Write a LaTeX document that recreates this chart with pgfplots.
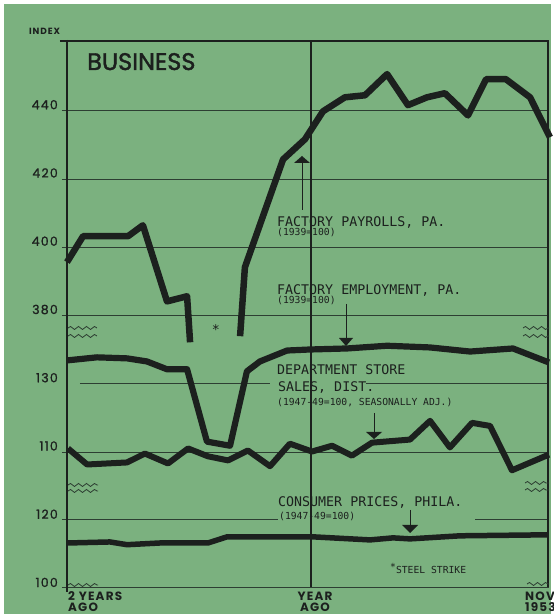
\documentclass[border=0pt]{standalone}
\usepackage{pgfplots}
\pgfplotsset{compat=1.18}
\usepackage{pgfplotstable}
\usepackage{fontspec}
\setmainfont{Poppins}
\newfontfamily\pop{Poppins}[LetterSpace=10]
\newfontfamily\popb{Poppins}[LetterSpace=10, FakeBold=1.2]
\newfontfamily\biz{Poppins}[FakeBold=1.6]
\newfontfamily\mono{DejaVu Sans Mono}
\usetikzlibrary{decorations.pathmorphing}
\definecolor{bg}{RGB}{123,177,127}
\definecolor{ink}{RGB}{28,32,30}
\definecolor{gridc}{RGB}{45,62,50}
\newcommand\tickfont{\popb\fontsize{12.5}{14}\selectfont}
\newcommand\bizfont{\biz\fontsize{24}{28}\selectfont}
\newcommand\xlabfont{\pop\bfseries\fontsize{12}{14}\selectfont}
\newcommand\lettA{\mono\fontsize{13.3}{15}\selectfont}
\newcommand\lettB{\mono\fontsize{9.7}{11}\selectfont}

% months from "2 years ago" (0) to Nov 1953 (24); index values
\pgfplotstableread{
m v
0.00 395.2
0.80 402.8
3.04 402.8
3.78 406.0
4.98 383.7
5.98 385.2
6.13 371.7
}\payA
\pgfplotstableread{
m v
8.62 373.5
8.86 393.7
10.76 425.3
11.85 431.2
12.75 439.4
13.84 443.5
14.84 444.1
15.94 450.3
16.98 441.2
17.93 443.5
18.82 444.7
19.97 438.2
20.87 448.8
21.86 448.8
23.06 443.5
24.05 431.8
}\pay
\pgfplotstableread{
m v
0.00 136.4
1.49 137.3
2.99 137.0
3.98 136.1
4.98 133.8
5.98 133.8
6.97 112.6
8.12 111.4
8.96 133.2
9.61 136.1
10.96 139.3
12.10 139.6
13.94 139.9
15.94 140.7
18.08 140.2
20.07 139.0
22.21 139.9
24.00 135.8
}\emp
\pgfplotstableread{
m v
0.05 110.6
1.00 105.9
2.99 106.5
3.88 109.1
5.03 106.2
6.03 110.6
7.02 108.3
8.02 107.1
9.01 110.0
10.11 105.4
11.10 112.0
12.20 109.7
13.20 111.4
14.19 108.5
15.19 112.3
17.08 113.2
18.08 118.7
19.07 110.9
20.17 118.1
21.07 117.2
22.16 104.2
24.00 108.8
}\dept
\pgfplotstableread{
m v
0.05 112.9
2.14 113.2
2.99 112.4
4.63 112.9
7.02 112.9
7.97 114.7
12.25 114.7
15.09 113.8
16.24 114.4
17.08 114.1
19.57 115.0
24.00 115.3
}\cpi

\begin{document}
\begin{tikzpicture}
\begin{scope}[x=1pt,y=-1pt,xshift=-67pt,yshift=587pt]
\fill[white] (0,0) rectangle (554,614);
\fill[bg] (4,4) rectangle (551,614);
\begin{scope}[draw=gridc, line width=0.9pt]
\draw (62,110) -- (549,110);
\draw (62,179) -- (549,179);
\draw (62,247) -- (549,247);
\draw (62,315) -- (549,315);
\draw (80,383) -- (270,383);
\draw (366,383) -- (549,383);
\draw (62,452) -- (549,452);
\draw (62,519) -- (278,519);
\draw (475,519) -- (549,519);
\draw (62,587) -- (549,587);
\end{scope}
\draw[ink, line width=1.5pt] (67,40) -- (67,592);
\draw[ink, line width=1.2pt] (60,41) -- (549,41);
\draw[ink, line width=1.1pt] (548,41) -- (548,587);
\draw[ink, line width=1.1pt] (311,41) -- (311,587);
\end{scope}

\begin{axis}[
  x=20.08pt, y=68.25pt,
  xmin=0, xmax=24, ymin=0, ymax=8,
  enlargelimits=false,
  axis line style={draw=none},
  major tick length=0pt,
  xtick=\empty,
  ytick={0,1,2,3,4,5,6,7},
  yticklabels={100,120,110,130,380,400,420,440},
  yticklabel style={font=\tickfont, text=ink, anchor=base east, inner sep=0pt, xshift=-9pt},
  clip=false,
]
\addplot[ink, line width=6.5pt, line join=round] table[x=m, y expr={4+(\thisrow{v}-380)/20}] {\payA};
\addplot[ink, line width=6.5pt, line join=round] table[x=m, y expr={4+(\thisrow{v}-380)/20}] {\pay};
\addplot[ink, line width=6.2pt, line join=round] table[x=m, y expr={3+(\thisrow{v}-130)/20}] {\emp};
\addplot[ink, line width=6pt, line join=round] table[x=m, y expr={3+(\thisrow{v}-130)/20}] {\dept};
\addplot[ink, line width=5.5pt, line join=round] table[x=m, y expr={(\thisrow{v}-100)/20}] {\cpi};
\end{axis}

\begin{scope}[x=1pt,y=-1pt,xshift=-67pt,yshift=587pt]
\tikzset{lab/.style={anchor=base west, inner sep=0pt, text=ink},
  wave/.style={draw=gridc, line width=0.8pt, decorate, decoration={snake, amplitude=1.5pt, segment length=8pt}}}
\node[lab, font=\bizfont] at (87,70) {BUSINESS};
\node[lab, font=\pop\bfseries\fontsize{9}{10}\selectfont] at (29,35) {INDEX};
\node[lab, font=\lettA] at (277,227) {FACTORY PAYROLLS, PA.};
\node[lab, font=\lettB] at (277,236) {(1939=100)};
\node[lab, font=\lettA] at (277,295) {FACTORY EMPLOYMENT, PA.};
\node[lab, font=\lettB] at (277,304) {(1939=100)};
\node[lab, font=\lettA] at (277,375) {DEPARTMENT STORE};
\node[lab, font=\lettA] at (278,392) {SALES, DIST.};
\node[lab, font=\lettB] at (277,406) {(1947-49=100, SEASONALLY ADJ.)};
\node[lab, font=\lettA] at (278,507) {CONSUMER PRICES, PHILA.};
\node[lab, font=\lettB] at (279,520) {(1947-49=100)};
\node[lab, font=\lettB] at (390,573) {\raisebox{2pt}{*}STEEL STRIKE};
\node[inner sep=0pt, text=ink, font=\lettA] at (216,330) {*};
\node[lab, font=\xlabfont] at (68,600) {2 YEARS};
\node[lab, font=\xlabfont] at (68,611) {AGO};
\node[anchor=base, inner sep=0pt, text=ink, font=\xlabfont] at (315,600) {YEAR};
\node[anchor=base, inner sep=0pt, text=ink, font=\xlabfont] at (315,611) {AGO};
\node[lab, font=\xlabfont] at (525,600) {NOV.};
\node[lab, font=\xlabfont] at (525,611) {1953};
% arrows
\draw[ink, line width=1pt] (302,210) -- (302,163);
\fill[ink] (294,163) -- (310,163) -- (302,156) -- cycle;
\draw[ink, line width=1pt] (346,304) -- (346,338);
\fill[ink] (339,338) -- (353,338) -- (346,346) -- cycle;
\draw[ink, line width=1pt] (374,413) -- (374,432);
\fill[ink] (366,432) -- (382,432) -- (374,439) -- cycle;
\draw[ink, line width=1pt] (410,510) -- (410,525);
\fill[ink] (402,525) -- (418,525) -- (410,533) -- cycle;
% scale breaks
\draw[wave] (68,328) -- (97,328);
\draw[wave] (68,336) -- (97,336);
\draw[wave] (523,328) -- (549,328);
\draw[wave] (523,336) -- (549,336);
\draw[wave] (68,485) -- (98,485);
\draw[wave] (68,491) -- (98,491);
\draw[wave] (525,483) -- (549,483);
\draw[wave] (525,490) -- (549,490);
\draw[wave] (68,585) -- (98,585);
\draw[wave] (527,584) -- (549,584);
\pgfresetboundingbox
\path[use as bounding box] (0,0) rectangle (554,614);
\end{scope}
\end{tikzpicture}
\end{document}
